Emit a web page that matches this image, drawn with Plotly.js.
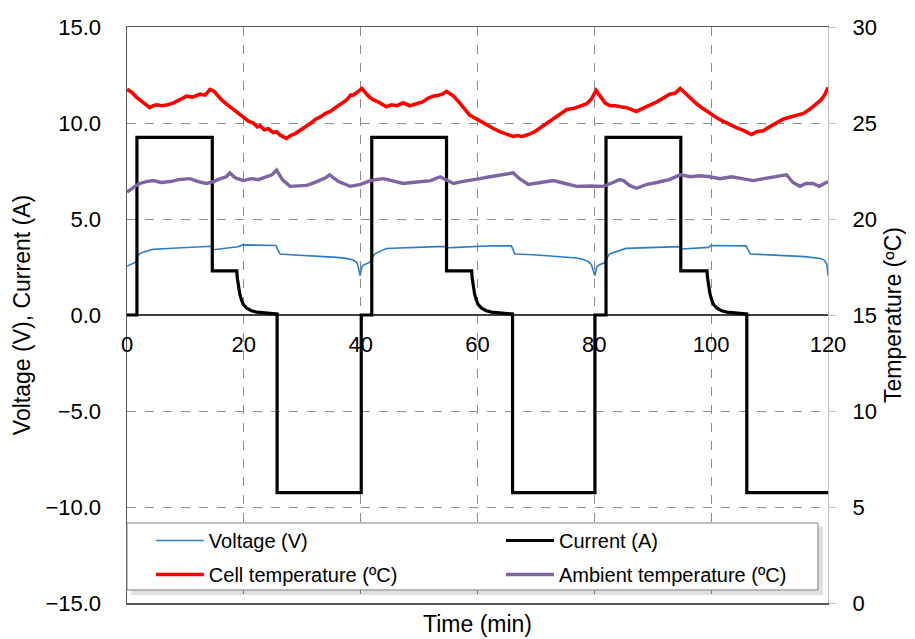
<!DOCTYPE html>
<html>
<head>
<meta charset="utf-8">
<script src="https://cdn.plot.ly/plotly-3.0.1.min.js"></script>
<style>html,body{margin:0;padding:0;background:#fff;}#chart{width:915px;height:639px;}</style>
</head>
<body>
<div id="chart"></div>
<script>
// ---- Data ----
// Current (A)
var currentTime = [0, 1.7, 1.7, 14.6, 14.6, 18.8, 18.85, 19.05, 19.3, 19.6, 19.9, 20.5, 21.3, 22.2, 23.5, 25.7, 25.7, 40.1, 40.1, 41.9, 41.9, 54.7, 54.7, 59.0, 59.05, 59.25, 59.5, 59.8, 60.1, 60.7, 61.5, 62.4, 63.7, 66.0, 66.0, 80.1, 80.1, 82.0, 82.0, 94.8, 94.8, 99.3, 99.35, 99.55, 99.8, 100.1, 100.4, 101.0, 101.8, 102.7, 104.0, 106.1, 106.1, 120];
var currentA = [0, 0, 9.25, 9.25, 2.3, 2.3, 2.0, 1.47, 1.1, 0.78, 0.55, 0.35, 0.22, 0.15, 0.1, 0.05, -9.25, -9.25, 0, 0, 9.25, 9.25, 2.3, 2.3, 2.0, 1.47, 1.1, 0.78, 0.55, 0.35, 0.22, 0.15, 0.1, 0.05, -9.25, -9.25, 0, 0, 9.25, 9.25, 2.3, 2.3, 2.0, 1.47, 1.1, 0.78, 0.55, 0.35, 0.22, 0.15, 0.1, 0.05, -9.25, -9.25];

// Voltage (V)
var voltageTime = [0, 0.8, 1.5, 1.8, 2.2, 3.0, 4.5, 7.0, 10.2, 12.5, 14.4, 14.8, 15.5, 17.6, 19.0, 19.9, 22.0, 25.5, 25.8, 26.2, 28.0, 30.8, 33.5, 35.9, 37.5, 38.7, 39.3, 39.6, 39.9, 40.2, 40.6, 41.6, 42.1, 42.5, 44.4, 47.0, 50.0, 53.0, 54.6, 54.9, 56.5, 58.7, 60.0, 62.5, 65.8, 66.1, 66.4, 69.5, 72.5, 75.2, 77.0, 78.0, 79.0, 79.5, 80.1, 80.4, 80.9, 81.7, 82.2, 82.6, 85.4, 88.0, 91.0, 94.5, 95.0, 97.0, 99.6, 99.9, 102.5, 106.0, 106.3, 106.7, 110.0, 113.0, 116.0, 118.7, 119.4, 119.8, 120];
var voltageV = [2.55, 2.65, 2.75, 3.05, 3.2, 3.3, 3.42, 3.46, 3.52, 3.55, 3.58, 3.4, 3.42, 3.5, 3.55, 3.65, 3.64, 3.62, 3.4, 3.18, 3.14, 3.1, 3.06, 3.0, 2.95, 2.86, 2.75, 2.5, 2.05, 2.5, 2.62, 2.75, 3.05, 3.2, 3.46, 3.5, 3.53, 3.56, 3.57, 3.5, 3.52, 3.56, 3.6, 3.61, 3.6, 3.4, 3.18, 3.14, 3.08, 3.02, 2.97, 2.9, 2.78, 2.62, 2.05, 2.5, 2.62, 2.72, 3.0, 3.18, 3.47, 3.5, 3.53, 3.56, 3.44, 3.47, 3.52, 3.62, 3.62, 3.6, 3.4, 3.18, 3.13, 3.1, 3.04, 2.94, 2.85, 2.65, 2.05];

// Cell temperature (ºC)
var cellTime = [0, 0.8, 1.6, 2.5, 3.2, 3.9, 4.5, 5.1, 6.0, 7.0, 8.0, 9.0, 10.2, 11.2, 12.0, 12.5, 13.4, 14.2, 14.9, 15.3, 16.2, 17.0, 17.6, 18.4, 19.2, 19.9, 20.8, 21.6, 22.3, 22.8, 23.5, 24.2, 25.0, 25.6, 26.3, 27.3, 28.0, 28.8, 29.6, 30.6, 31.5, 32.3, 33.0, 34.0, 34.8, 35.9, 36.8, 37.6, 38.3, 38.7, 39.4, 40.2, 40.9, 41.5, 42.2, 43.0, 44.4, 45.3, 46.2, 47.3, 48.4, 49.5, 50.6, 51.6, 52.4, 53.3, 54.0, 54.7, 55.3, 55.9, 56.8, 57.8, 58.7, 59.6, 60.4, 61.6, 62.8, 63.8, 65.0, 66.1, 66.8, 67.6, 68.7, 69.8, 71.0, 72.4, 73.5, 74.5, 75.3, 76.4, 77.6, 78.7, 79.5, 80.3, 81.0, 81.8, 82.7, 83.6, 84.5, 85.5, 86.4, 87.2, 88.2, 89.4, 90.7, 91.8, 92.9, 93.8, 94.7, 95.4, 96.4, 97.5, 98.6, 99.8, 100.8, 102.0, 103.2, 104.4, 105.6, 106.9, 107.8, 108.9, 110.0, 111.2, 112.3, 113.4, 114.5, 115.8, 116.8, 117.5, 118.0, 118.8, 119.4, 120];
var cellTemp = [26.75, 26.6, 26.35, 26.15, 25.95, 25.8, 25.9, 25.95, 25.9, 25.95, 26.05, 26.2, 26.4, 26.35, 26.45, 26.5, 26.45, 26.75, 26.65, 26.5, 26.2, 26.0, 25.85, 25.65, 25.45, 25.3, 25.1, 25.0, 24.8, 24.85, 24.65, 24.7, 24.5, 24.55, 24.35, 24.2, 24.35, 24.45, 24.6, 24.8, 25.0, 25.2, 25.3, 25.5, 25.6, 25.85, 26.05, 26.2, 26.45, 26.45, 26.6, 26.8, 26.55, 26.35, 26.2, 26.1, 25.85, 25.95, 25.9, 26.05, 25.9, 26.0, 26.1, 26.3, 26.4, 26.45, 26.5, 26.65, 26.55, 26.4, 26.1, 25.75, 25.4, 25.25, 25.1, 24.9, 24.7, 24.55, 24.4, 24.3, 24.35, 24.3, 24.4, 24.55, 24.8, 25.1, 25.3, 25.55, 25.7, 25.75, 25.9, 26.0, 26.25, 26.7, 26.4, 26.05, 25.9, 25.9, 25.85, 25.8, 25.7, 25.6, 25.75, 25.9, 26.1, 26.3, 26.5, 26.55, 26.8, 26.6, 26.3, 26.0, 25.75, 25.5, 25.3, 25.1, 24.9, 24.75, 24.6, 24.4, 24.55, 24.6, 24.8, 25.0, 25.2, 25.3, 25.4, 25.5, 25.7, 25.85, 26.0, 26.2, 26.45, 26.85];

// Ambient temperature (ºC)
var ambTime = [0, 0.8, 1.6, 2.2, 3.3, 4.5, 5.8, 7.4, 8.8, 10.8, 12.2, 13.6, 14.8, 16.0, 17.0, 17.6, 18.5, 19.9, 21.3, 22.5, 23.9, 24.8, 25.6, 26.6, 27.9, 29.3, 30.8, 32.5, 34.0, 34.7, 36.2, 38.2, 39.2, 40.0, 41.2, 42.5, 43.9, 45.5, 47.3, 48.8, 50.2, 52.0, 53.6, 54.8, 55.9, 57.3, 58.7, 60.4, 62.1, 64.0, 66.1, 67.2, 68.7, 70.8, 73.0, 75.0, 77.0, 79.2, 81.5, 83.2, 84.3, 85.0, 86.0, 87.2, 89.0, 90.7, 92.8, 94.7, 96.5, 98.0, 99.8, 101.5, 103.5, 105.3, 107.2, 109.0, 110.8, 112.9, 114.0, 115.2, 116.2, 117.4, 118.5, 119.3, 120];
var ambTemp = [21.4, 21.6, 21.75, 21.85, 21.95, 22.0, 21.9, 21.95, 22.05, 22.1, 21.95, 21.85, 21.95, 22.1, 22.2, 22.4, 22.15, 22.0, 22.1, 22.05, 22.2, 22.3, 22.55, 22.05, 21.7, 21.72, 21.75, 21.95, 22.15, 22.3, 21.95, 21.7, 21.78, 21.8, 21.95, 22.05, 22.1, 22.0, 21.85, 21.9, 21.95, 22.0, 22.2, 22.0, 21.85, 21.95, 22.0, 22.1, 22.2, 22.3, 22.4, 22.1, 21.8, 21.9, 22.0, 21.85, 21.7, 21.72, 21.7, 21.9, 22.05, 22.0, 21.75, 21.6, 21.8, 21.9, 22.05, 22.3, 22.2, 22.25, 22.2, 22.1, 22.2, 22.1, 22.0, 22.1, 22.2, 22.3, 21.9, 21.7, 21.85, 21.85, 21.7, 21.85, 21.95];

var xTickVals = [0, 20, 40, 60, 80, 100, 120];
var xTickText = ['0', '20', '40', '60', '80', '100', '120'];

// ---- Chart ----
var FONT = 'Liberation Sans, Arial, sans-serif';
var traces = [
  {x: voltageTime, y: voltageV, name: 'Voltage (V)', type: 'scatter', mode: 'lines',
   line: {color: '#2E7CC4', width: 1.6}, xaxis: 'x', yaxis: 'y', legend: 'legend', legendgroup: 'g1'},
  {x: currentTime, y: currentA, name: 'Current (A)', type: 'scatter', mode: 'lines',
   line: {color: '#000000', width: 3.2}, xaxis: 'x', yaxis: 'y', legend: 'legend2', legendgroup: 'g2'},
  {x: cellTime, y: cellTemp, name: 'Cell temperature (ºC)', type: 'scatter', mode: 'lines',
   line: {color: '#FF0000', width: 3.6}, xaxis: 'x', yaxis: 'y2', legend: 'legend', legendgroup: 'g3'},
  {x: ambTime, y: ambTemp, name: 'Ambient temperature (ºC)', type: 'scatter', mode: 'lines',
   line: {color: '#8064A2', width: 3.4}, xaxis: 'x', yaxis: 'y2', legend: 'legend2', legendgroup: 'g4'},
  {x: [null], y: [null], xaxis: 'x2', yaxis: 'y', showlegend: false, hoverinfo: 'skip', mode: 'lines'}
];

var legendCommon = {
  orientation: 'v', xanchor: 'left', y: 0.1424, yanchor: 'top',
  bgcolor: 'rgba(0,0,0,0)', borderwidth: 0,
  itemwidth: 48, tracegroupgap: 5, traceorder: 'grouped',
  font: {size: 20, family: FONT}
};

var layout = {
  width: 915, height: 639,
  margin: {l: 127, r: 87, t: 27, b: 36},
  paper_bgcolor: '#ffffff', plot_bgcolor: '#ffffff',
  font: {family: FONT, color: '#000000', size: 21},
  showlegend: true,
  xaxis: {
    range: [0, 120], tickvals: xTickVals, showticklabels: false,
    showgrid: true, gridcolor: '#8c8c8c', griddash: 'dash', gridwidth: 1,
    zeroline: false, showline: true, mirror: true, linecolor: '#595959', linewidth: 1.5,
    ticks: '',
    title: {text: 'Time (min)', font: {size: 23, family: FONT}, standoff: 12}
  },
  xaxis2: {
    overlaying: 'x', anchor: 'free', position: 0.5,
    range: [0, 120], tickvals: xTickVals, ticktext: xTickText,
    showgrid: false, zeroline: false, showline: false, ticks: '',
    tickfont: {size: 22, family: FONT}, ticklabelstandoff: 14
  },
  yaxis: {
    range: [-15, 15], dtick: 5, tick0: 0, tickformat: '.1f',
    showgrid: true, gridcolor: '#8c8c8c', griddash: 'dash', gridwidth: 1,
    zeroline: true, zerolinecolor: '#404040', zerolinewidth: 1.5,
    showline: true, linecolor: '#595959', linewidth: 1.5, ticks: '',
    tickfont: {size: 22, family: FONT}, ticklabelstandoff: 20,
    title: {text: 'Voltage (V), Current (A)', font: {size: 23, family: FONT}, standoff: 8}
  },
  yaxis2: {
    overlaying: 'y', side: 'right', anchor: 'x',
    range: [0, 30], dtick: 5, tick0: 0,
    showgrid: false, zeroline: false, showline: true, linecolor: '#BFBFBF', linewidth: 1.2,
    ticks: 'outside', ticklen: 7, tickcolor: '#BFBFBF',
    tickfont: {size: 22, family: FONT}, ticklabelstandoff: 12,
    title: {text: 'Temperature (ºC)', font: {size: 23, family: FONT}, standoff: 8}
  },
  legend: Object.assign({}, legendCommon, {x: 0.034}),
  legend2: Object.assign({}, legendCommon, {x: 0.5335}),
  shapes: [
    // legend frame shadow
    {type: 'rect', xref: 'paper', yref: 'paper', layer: 'above',
     x0: 0.006, x1: 0.993, y0: 0.014, y1: 0.133,
     fillcolor: 'rgba(0,0,0,0.12)', line: {width: 0}},
    // legend frame
    {type: 'rect', xref: 'paper', yref: 'paper', layer: 'above',
     x0: 0.0, x1: 0.9857, y0: 0.0226, y1: 0.1389,
     fillcolor: '#ffffff', line: {color: '#7f7f7f', width: 1}}
  ]
};

Plotly.newPlot('chart', traces, layout, {staticPlot: true, displayModeBar: false});
</script>
</body>
</html>
